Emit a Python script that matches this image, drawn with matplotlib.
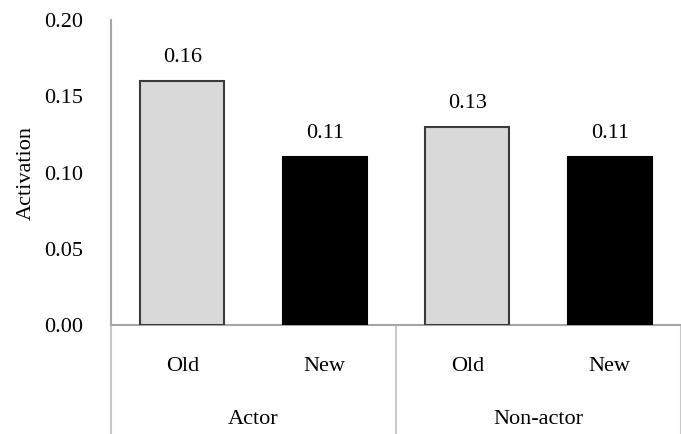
import matplotlib.pyplot as plt
import matplotlib.transforms as mtransforms

groups = ['Actor', 'Non-actor']
conditions = ['Old', 'New']
values = [0.16, 0.11, 0.13, 0.11]
value_labels = ['0.16', '0.11', '0.13', '0.11']
yticks = [0.00, 0.05, 0.10, 0.15, 0.20]

plt.rcParams['font.family'] = 'Liberation Serif'
plt.rcParams['font.size'] = 16

fig = plt.figure(figsize=(6.81, 4.34), dpi=100)
ax = fig.add_axes([0.163, 0.251, 0.837, 0.703])

axis_gray = '#a6a6a6'
sep_gray = '#c8c8c8'

x = list(range(len(values)))
fills = ['#d9d9d9', '#000000'] * len(groups)
edges = ['#3a3a3a', '#000000'] * len(groups)
ax.bar(x, values, width=0.59, color=fills, edgecolor=edges, linewidth=1.5, zorder=3)

for xi, v, lab in zip(x, values, value_labels):
    ax.annotate(lab, (xi, v), xytext=(0, 10), textcoords='offset points',
                ha='center', va='bottom')

ax.set_xlim(-0.5, len(values) - 0.5)
ax.set_ylim(0, 0.20)
ax.set_yticks(yticks)
ax.set_yticklabels([f'{t:.2f}' for t in yticks])
ax.tick_params(axis='y', length=0, pad=20)
ax.set_xticks([])
ax.set_ylabel('Activation', labelpad=6)

for side in ['top', 'right']:
    ax.spines[side].set_visible(False)
ax.spines['left'].set_color(axis_gray)
ax.spines['bottom'].set_color(axis_gray)
ax.spines['left'].set_linewidth(1.5)
ax.spines['bottom'].set_linewidth(1.5)

# two-level category axis
trans = mtransforms.blended_transform_factory(ax.transData, ax.transAxes)
for i, xi in enumerate(x):
    ax.text(xi, -0.135, conditions[i % 2], transform=trans, ha='center', va='center')
for g, name in enumerate(groups):
    ax.text(2 * g + 0.5, -0.31, name, transform=trans, ha='center', va='center')
for sx in [-0.5, 1.5, 3.5]:
    ax.plot([sx, sx], [0, -0.36], transform=trans, color=sep_gray,
            linewidth=1.5, clip_on=False)

fig.savefig('out.png', dpi=100)
